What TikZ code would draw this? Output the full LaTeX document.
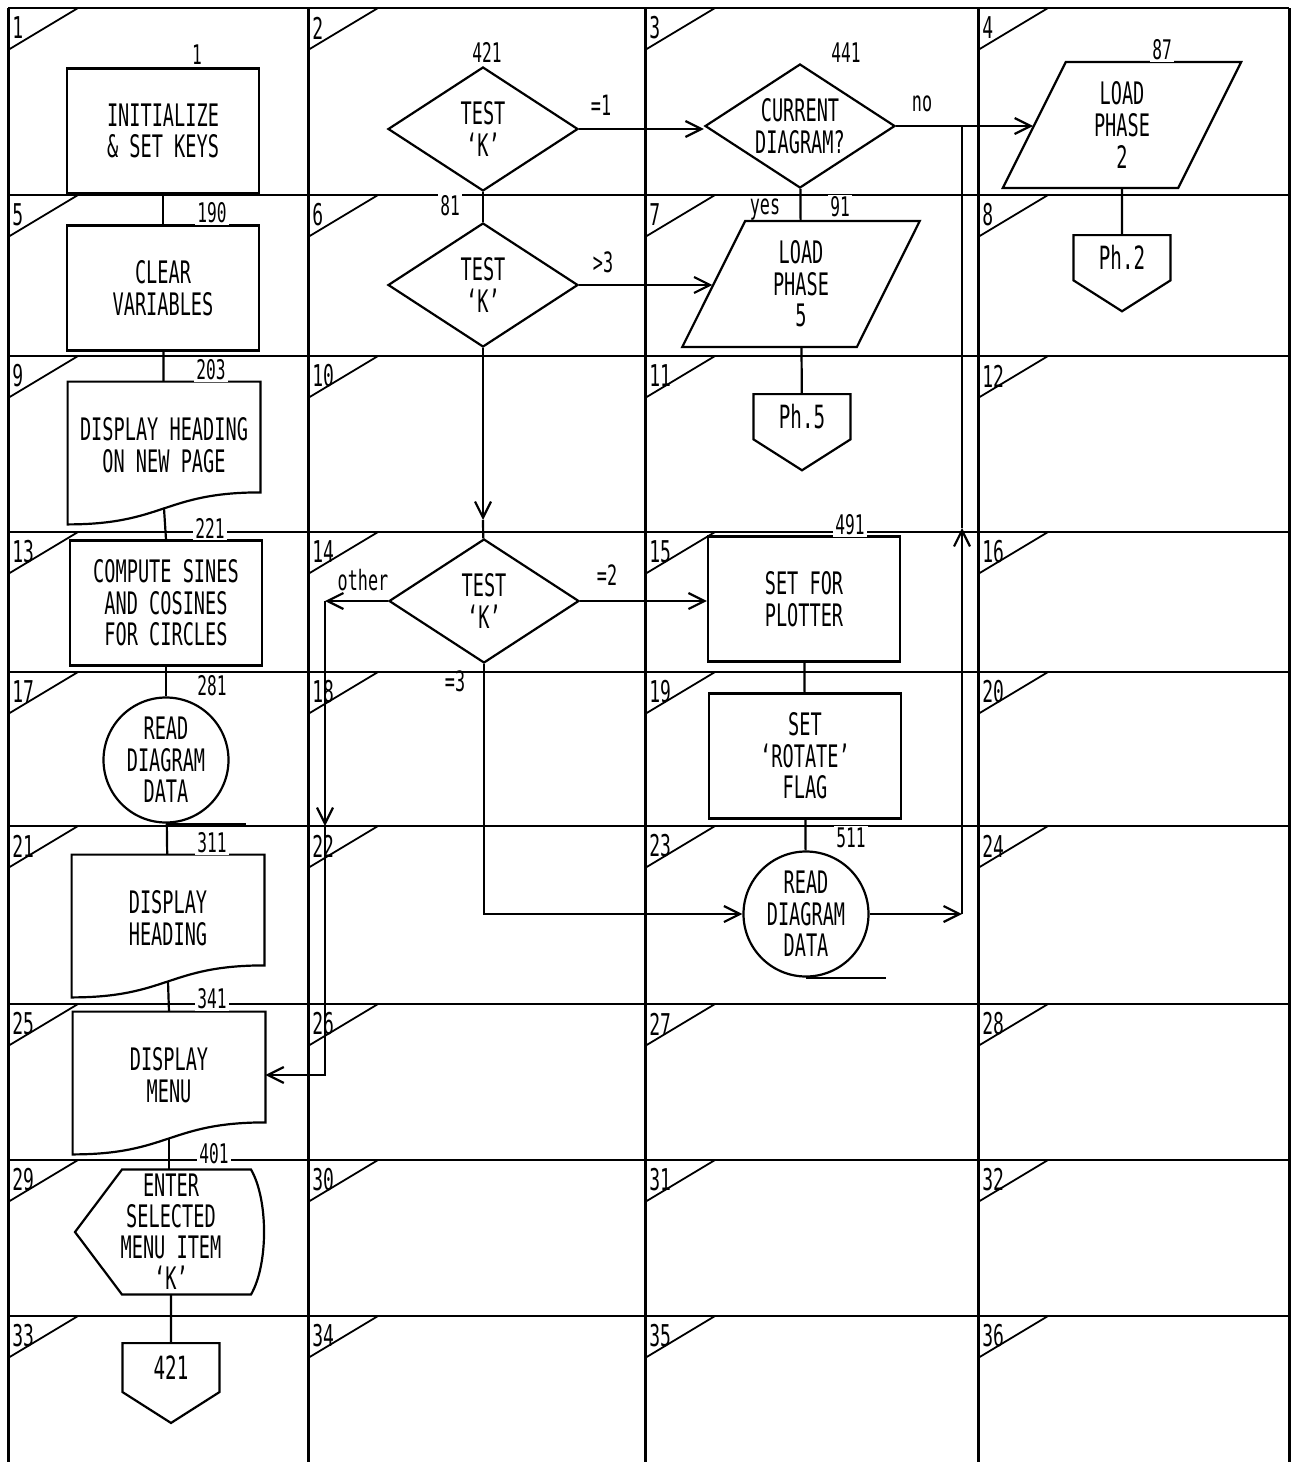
\documentclass[tikz,border=0pt]{standalone}
\usepackage{fontspec}
\setmainfont{DejaVu Sans Mono}[FakeStretch=0.6]
\usetikzlibrary{shapes.geometric, shapes.symbols, arrows.meta, calc}

\newcommand{\docoutline}[1]{%
  \draw[outline] ([yshift=-8pt]#1.south west) -- (#1.north west) -- (#1.north east)
    -- ([yshift=8pt]#1.south east)
    .. controls ([yshift=8pt]#1.south) and ([yshift=-8pt]#1.south) .. ([yshift=-8pt]#1.south west) -- cycle;}

\begin{document}
\begin{tikzpicture}[
  x=0.5pt, y=-0.5pt,
  outline/.style={draw, line width=1.1pt},
  gridv/.style={line width=1.5pt},
  gridh/.style={line width=0.9pt},
  box/.style={rectangle, outline, minimum width=96pt, minimum height=62.5pt,
    inner sep=0pt, align=center, font=\fontsize{15.5}{15.8}\selectfont},
  doc/.style={rectangle, minimum width=96pt, minimum height=63pt,
    inner sep=0pt, align=center, font=\fontsize{15.5}{15.8}\selectfont},
  decide/.style={diamond, outline, aspect=1.5, minimum width=95pt, minimum height=62pt,
    inner sep=0pt, align=center, font=\fontsize{15.5}{15.8}\selectfont},
  io/.style={trapezium, trapezium left angle=70, trapezium right angle=110,
    trapezium stretches=true, outline, minimum width=119.5pt, minimum height=63pt,
    inner sep=0pt, align=center, font=\fontsize{15.5}{15.8}\selectfont},
  store/.style={circle, outline, minimum size=62.5pt, inner sep=0pt, align=center,
    font=\fontsize{15.5}{15.8}\selectfont},
  offpage/.style={signal, signal to=south, signal from=nowhere, signal pointer angle=115,
    outline, minimum width=48.5pt, minimum height=30pt, inner sep=0pt,
    font=\fontsize{16}{16}\selectfont},
  entry/.style={rectangle, minimum height=62.5pt, inner sep=0pt, align=center,
    font=\fontsize{15.5}{15.5}\selectfont},
  cellno/.style={anchor=west, inner sep=0pt, font=\fontsize{15}{15}\selectfont},
  lineno/.style={fill=white, inner sep=1pt, font=\fontsize{13.5}{13.5}\selectfont},
  cond/.style={inner sep=1pt, font=\fontsize{14}{14}\selectfont},
  link/.style={line width=1.1pt},
  arrow/.style={line width=1.1pt, -{Straight Barb[length=8pt, width=8pt]}}
]
\useasboundingbox (0,0) rectangle (1293,1462);

\foreach \ry in {8,195,356,532,672,826,1004,1160,1316}
  \draw[gridh] (8,\ry) -- (1289,\ry);
\foreach \cx in {8,308,645,978,1289}
  \draw[gridv] (\cx,8) -- (\cx,1462);
\foreach \ry [count=\r from 0] in {8,195,356,532,672,826,1004,1160,1316}
  \foreach \cx [count=\c] in {8,308,645,978} {
    \pgfmathtruncatemacro{\n}{4*\r+\c}
    \draw[gridh] (\cx,\ry+42) -- (\cx+70,\ry);
    \node[cellno] (cell\n) at (\cx+4,\ry+20) {\n};
  }

\node[box] (init) at (163,131) {INITIALIZE\\\& SET KEYS};
\node[box] (clear) at (163,288) {CLEAR\\VARIABLES};
\node[doc] (heading) at (164,445) {DISPLAY HEADING\\ON NEW PAGE};
\docoutline{heading}
\node[box] (sines) at (166,603) {COMPUTE SINES\\AND COSINES\\FOR CIRCLES};
\node[store] (readA) at (166,760) {READ\\DIAGRAM\\DATA};
\draw[outline] (readA.south) -- ++(40pt,0);
\node[doc] (headB) at (168,918) {DISPLAY\\HEADING};
\docoutline{headB}
\node[doc] (menu) at (169,1075) {DISPLAY\\MENU};
\docoutline{menu}
\node[entry] (enter) at (171,1232) {ENTER\\SELECTED\\MENU ITEM\\`K'};
\draw[outline] ([shift={(-24.5pt,31.25pt)}]enter.center) -- ([shift={(40pt,31.25pt)}]enter.center)
  .. controls +(8.7pt,-15pt) and +(8.7pt,15pt) .. ([shift={(40pt,-31.25pt)}]enter.center)
  -- ([shift={(-24.5pt,-31.25pt)}]enter.center) -- ([shift={(-48pt,0pt)}]enter.center) -- cycle;
\node[offpage, anchor=north] (go421) at (171,1342) {421};

\node[decide] (test1) at (483,129) {TEST\\`K'};
\node[decide] (test2) at (483,285) {TEST\\`K'};
\node[decide] (test3) at (484,601) {TEST\\`K'};

\node[decide] (current) at (800,126) {CURRENT\\DIAGRAM?};
\node[io] (load5) at (801,284) {LOAD\\PHASE\\5};
\node[offpage, anchor=north] (ph5) at (802,393) {Ph.5};
\node[box] (plotter) at (804,599) {SET FOR\\PLOTTER};
\node[box] (rotate) at (805,756) {SET\\`ROTATE'\\FLAG};
\node[store] (readB) at (806,914) {READ\\DIAGRAM\\DATA};
\draw[outline] (readB.south) -- ++(40pt,0);

\node[io] (load2) at (1122,125) {LOAD\\PHASE\\2};
\node[offpage, anchor=north] (ph2) at (1122,234) {Ph.2};

\coordinate (dn) at (483,520);
\coordinate (oth0) at (325,601);
\coordinate (oth1) at (325,826);
\coordinate (oth2) at (325,1075);
\coordinate (rt0) at (962,914);
\coordinate (rt1) at (962,528);
\coordinate (rt2) at (962,126);

\draw[link] (init) -- (clear);
\draw[link] (clear) -- (heading);
\draw[link] (heading.south) -- (sines.north);
\draw[link] (sines) -- (readA);
\draw[link] (readA) -- (headB);
\draw[link] (headB.south) -- (menu.north);
\draw[link] (menu.south) -- (menu.south |- enter.north);
\draw[link] (enter) -- (go421);

\draw[arrow] (test1.east) -- (test1.east -| current.west);
\draw[link] (test1) -- (test2);
\draw[arrow] (test2.east) -- (test2.east -| load5.west);
\draw[arrow] (test2) -- (dn);
\draw[link] (dn) -- (test3);
\draw[arrow] (test3.east) -- (test3.east -| plotter.west);
\draw[arrow] (test3.west) -- (oth0);
\draw[arrow] (oth0) -- (oth1);
\draw[arrow] (oth1) -- (oth2) -- (menu.east);
\draw[arrow] (test3.south) |- (readB.west);

\draw[link] (current) -- (load5);
\draw[link] (load5) -- (ph5);
\draw[arrow] (current.east) -- (current.east -| load2.west);
\draw[link] (plotter) -- (rotate);
\draw[link] (rotate) -- (readB);
\draw[arrow] (readB.east) -- (rt0);
\draw[arrow] (rt0) -- (rt1);
\draw[link] (rt1) -- (rt2);
\draw[link] (load2) -- (ph2);

\node[lineno] (l1) at (197,55) {1};
\node[lineno] (l190) at (212,213) {190};
\node[lineno] (l203) at (211,370) {203};
\node[lineno] (l221) at (210,528) {221};
\node[lineno] (l281) at (212,686) {281};
\node[lineno] (l311) at (212,843) {311};
\node[lineno] (l341) at (212,999) {341};
\node[lineno] (l401) at (214,1154) {401};
\node[lineno] (l421) at (487,52) {421};
\node[lineno] (l81) at (450,206) {81};
\node[lineno] (l441) at (846,53) {441};
\node[lineno] (l87) at (1162,50) {87};
\node[lineno] (l91) at (840,207) {91};
\node[lineno] (l491) at (850,525) {491};
\node[lineno] (l511) at (851,838) {511};

\node[cond] (c1) at (601,105) {=1};
\node[cond] (c3) at (603,262) {>3};
\node[cond] (cno) at (922,104) {no};
\node[cond] (cyes) at (765,210) {yes};
\node[cond] (cother) at (363,580) {other};
\node[cond] (c2) at (607,575) {=2};
\node[cond] (ceq3) at (455,681) {=3};
\end{tikzpicture}
\end{document}
